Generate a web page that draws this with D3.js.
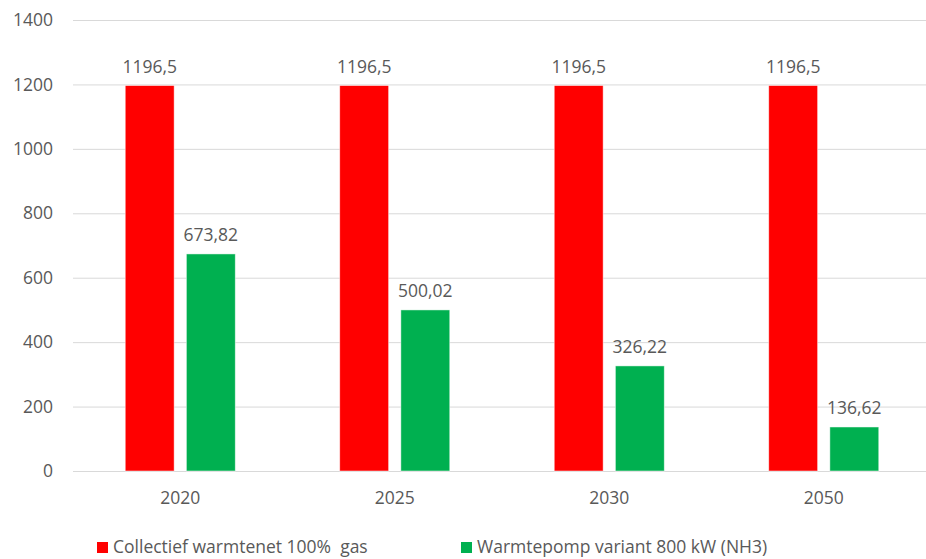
<!DOCTYPE html>
<html>
<head>
<meta charset="utf-8">
<script src="https://cdn.jsdelivr.net/npm/d3@7"></script>
<style>
  body { margin: 0; background: #fff; }
  text { font-family: "Open Sans", "Noto Sans", sans-serif; fill: #595959; white-space: pre; }
</style>
</head>
<body>
<div id="chart"></div>
<script>
// chart data
var years = ["2020", "2025", "2030", "2050"];
var seriesNames = ["Collectief warmtenet 100%  gas", "Warmtepomp variant 800 kW (NH3)"];
var gasValues = [1196.5, 1196.5, 1196.5, 1196.5];
var heatPumpValues = [673.82, 500.02, 326.22, 136.62];
var gasLabels = ["1196,5", "1196,5", "1196,5", "1196,5"];
var heatPumpLabels = ["673,82", "500,02", "326,22", "136,62"];
var yTicks = [0, 200, 400, 600, 800, 1000, 1200, 1400];
var colors = ["#ff0000", "#00b050"];

var width = 926, height = 559;
var fontSize = 17.5;

var svg = d3.select("#chart").append("svg")
    .attr("width", width)
    .attr("height", height);

/* Scales */
var x0 = d3.scaleBand()
    .domain(years)
    .range([73, 931])
    .paddingInner(0.487)
    .paddingOuter(0.2435);
var x1 = d3.scaleBand()
    .domain([0, 1])
    .range([0, x0.bandwidth()])
    .paddingInner(0.2);
var y = d3.scaleLinear()
    .domain([0, 1400])
    .range([471, 20]);

// gridlines + y tick labels
var yAxis = svg.append("g")
    .attr("transform", "translate(73,0)")
    .call(d3.axisLeft(y).tickValues(yTicks).tickSize(-860).tickPadding(20)
        .tickFormat(function(d){ return d; }));
yAxis.select(".domain").remove();
yAxis.selectAll("line").attr("stroke", "#d9d9d9").attr("stroke-width", 1);
yAxis.selectAll("text")
    .style("font-family", "\"Open Sans\", sans-serif")
    .attr("font-size", fontSize)
    .attr("fill", "#595959");

/* Bars */
var rows = years.map(function(yr, i){
    return {year: yr, vals: [gasValues[i], heatPumpValues[i]], labels: [gasLabels[i], heatPumpLabels[i]]};
});

var groups = svg.selectAll(".grp")
    .data(rows)
    .enter()
    .append("g")
    .attr("class", "grp")
    .attr("transform", function(d){ return "translate(" + x0(d.year) + ",0)"; });

var cells = groups.selectAll(".cell")
    .data(function(d){
        return d.vals.map(function(v, k){ return {k: k, v: v, label: d.labels[k]}; });
    })
    .enter();

cells.append("rect")
    .attr("x", function(d){ return x1(d.k); })
    .attr("y", function(d){ return y(d.v); })
    .attr("width", x1.bandwidth())
    .attr("height", function(d){ return y(0) - y(d.v); })
    .attr("fill", function(d){ return colors[d.k]; })
    .attr("stroke", "#ffffff")
    .attr("stroke-opacity", 0.6)
    .attr("stroke-width", 0.8);

cells.append("text")
    .attr("x", function(d){ return x1(d.k) + x1.bandwidth() / 2; })
    .attr("y", function(d){ return y(d.v) - 13; })
    .attr("text-anchor", "middle")
    .attr("font-size", fontSize)
    .text(function(d){ return d.label; });

// category labels
svg.selectAll(".cat")
    .data(years)
    .enter()
    .append("text")
    .attr("class", "cat")
    .attr("x", function(d){ return x0(d) + x0.bandwidth() / 2; })
    .attr("y", 504)
    .attr("text-anchor", "middle")
    .attr("font-size", fontSize)
    .text(function(d){ return d; });

/* Legend */
var legendX = [97, 461];
var legend = svg.selectAll(".legend")
    .data(seriesNames)
    .enter()
    .append("g")
    .attr("class", "legend")
    .attr("transform", function(d, i){ return "translate(" + legendX[i] + ",542)"; });
legend.append("rect")
    .attr("width", 11)
    .attr("height", 11)
    .attr("fill", function(d, i){ return colors[i]; });
legend.append("text")
    .attr("x", 16)
    .attr("y", 11)
    .attr("font-size", fontSize)
    .text(function(d){ return d; });
</script>
</body>
</html>
